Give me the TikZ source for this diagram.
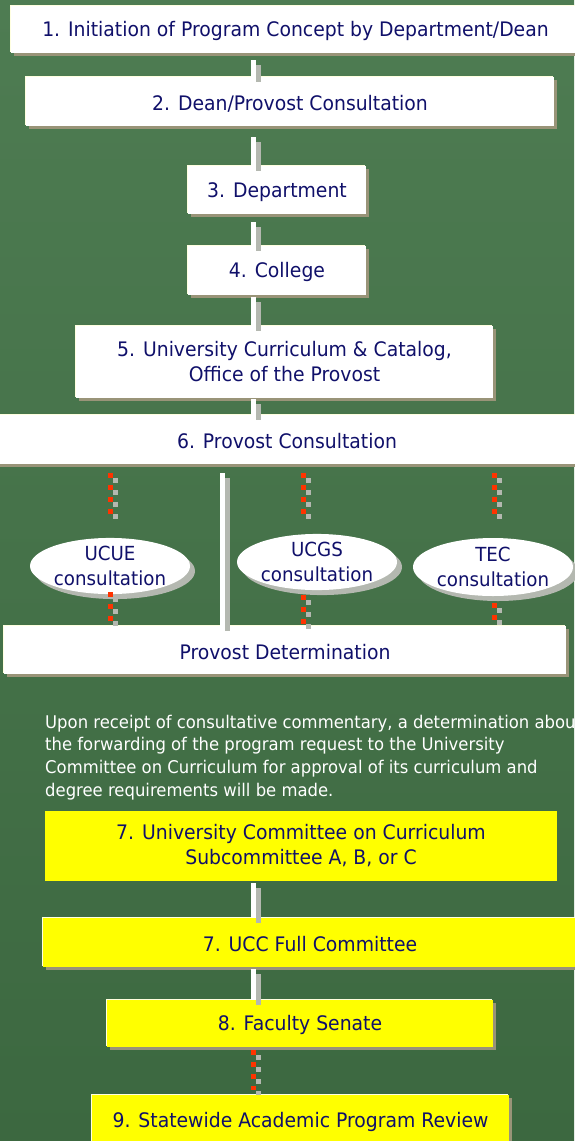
\documentclass[tikz,border=0pt]{standalone}
\usepackage{fontspec}
\setmainfont{DejaVu Sans}[FakeStretch=0.94]
\usetikzlibrary{shapes.geometric,shadows}
\definecolor{bgtop}{RGB}{78,124,82}
\definecolor{bgbot}{RGB}{60,104,64}
\definecolor{navy}{RGB}{16,16,106}
\definecolor{shadowc}{RGB}{153,148,120}
\definecolor{cream}{RGB}{255,255,224}
\definecolor{conngrey}{RGB}{180,184,176}
\definecolor{dashred}{RGB}{255,51,0}
\definecolor{boxyellow}{RGB}{255,255,0}
\tikzset{
 box/.style={rectangle, fill=white, inner sep=0pt, align=center, text=navy,
   font=\fontsize{20}{25}\selectfont,
   execute at begin node={\rule{0pt}{19pt}},
   drop shadow={shadow xshift=3pt, shadow yshift=-3pt, fill=shadowc, opacity=1},
   general shadow={shadow xshift=-1.5pt, shadow yshift=1.5pt, fill=cream}},
 ybox/.style={box, fill=boxyellow},
 yplain/.style={rectangle, fill=boxyellow, inner sep=0pt, align=center, text=navy,
   font=\fontsize{20}{25}\selectfont, execute at begin node={\rule{0pt}{19pt}}},
 oval/.style={ellipse, fill=white, inner sep=0pt, align=center, text=navy,
   font=\fontsize{19.4}{25}\selectfont, minimum width=160pt,
   drop shadow={shadow xshift=5pt, shadow yshift=-5pt, fill=conngrey, opacity=1}},
 para/.style={inner sep=0pt, align=left, text=white, font=\fontsize{17.5}{22.7}\selectfont},
 conn/.style={draw=white, line width=5pt},
 connsh/.style={draw=conngrey, line width=5pt, transform canvas={xshift=5pt,yshift=-5pt}},
 dconn/.style={draw=dashred, line width=5pt, dash pattern=on 5pt off 7pt},
 dconnsh/.style={draw=conngrey, line width=5pt, dash pattern=on 5pt off 7pt,
   transform canvas={xshift=5pt,yshift=-5pt}},
}
\begin{document}
\begin{tikzpicture}[x=1pt,y=-1pt]
\useasboundingbox (0,0) rectangle (574,1141);
\fill[top color=bgtop, bottom color=bgbot] (0,0) rectangle (574,1141);

% boxes
\node[box, minimum width=569pt, minimum height=47pt] (b1) at (295.5,29.5) {1. Initiation of Program Concept by Department/Dean};
\node[box, minimum width=528pt, minimum height=49pt] (b2) at (290,101.5) {2. Dean/Provost Consultation};
\node[box, minimum width=178pt, minimum height=48pt] (b3) at (277,190) {3. Department};
\node[box, minimum width=178pt, minimum height=49pt] (b4) at (277,270.5) {4. College};
\node[box, minimum width=417pt, minimum height=72pt] (b5) at (284.5,362) {5. University Curriculum \& Catalog,\\Office of the Provost};
\node[box, minimum width=585pt, minimum height=49pt] (b6) at (287,439.5) {6. Provost Consultation};

\node[oval, minimum height=56pt] (e1) at (110,566) {UCUE\\consultation};
\node[oval, minimum height=56pt] (e2) at (317,562) {UCGS\\consultation};
\node[oval, minimum height=58pt] (e3) at (493,567) {TEC\\consultation};

\node[box, minimum width=562pt, minimum height=48pt] (pd) at (285,650) {Provost Determination};

\node[para, anchor=north west] (note) at (45,714.5) {Upon receipt of consultative commentary, a determination about\\the forwarding of the program request to the University\\Committee on Curriculum for approval of its curriculum and\\degree requirements will be made.};

\node[yplain, minimum width=512pt, minimum height=70pt] (b7a) at (301,846) {7. University Committee on Curriculum\\Subcommittee A, B, or C};
\node[ybox, minimum width=534pt, minimum height=49pt] (b7b) at (310,942.5) {7. UCC Full Committee};
\node[ybox, minimum width=386pt, minimum height=47pt] (b8) at (300,1023.5) {8. Faculty Senate};
\node[ybox, minimum width=417pt, minimum height=50pt] (b9) at (300.5,1120) {9. Statewide Academic Program Review};

% connector axes
\coordinate (spine) at (253,0);
\coordinate (sep) at (222,0);
\coordinate (d1) at (110,0);
\coordinate (d2) at (303,0);
\coordinate (d3) at (494.5,0);

% solid connectors (shadow then white)
\foreach \a/\b/\g in {b1/b2/7, b2/b3/11, b3/b4/8, b4/b5/2, b5/b6/1, b7a/b7b/2, b7b/b8/2}{
  \draw[connsh] ([yshift=-\g pt]spine |- \a.south) -- (spine |- \b.north);
  \draw[conn] ([yshift=-\g pt]spine |- \a.south) -- (spine |- \b.north);
}
\draw[connsh] ([yshift=-9pt]sep |- b6.south) -- (sep |- pd.north);
\draw[conn] ([yshift=-9pt]sep |- b6.south) -- (sep |- pd.north);

% dashed connectors
\foreach \d/\e/\t in {d1/e1/17, d2/e2/13, d3/e3/17}{
  \draw[dconnsh] ([yshift=-9pt]\d |- b6.south) -- ([yshift=\t pt]\d |- \e.north);
  \draw[dconn] ([yshift=-9pt]\d |- b6.south) -- ([yshift=\t pt]\d |- \e.north);
}
\foreach \d/\e/\s in {d1/e1/2, d2/e2/-5, d3/e3/-7}{
  \draw[dconnsh] ([yshift=\s pt]\d |- \e.south) -- (\d |- pd.north);
  \draw[dconn] ([yshift=\s pt]\d |- \e.south) -- (\d |- pd.north);
}
\draw[dconnsh] ([yshift=-3pt]spine |- b8.south) -- ([yshift=5pt]spine |- b9.north);
\draw[dconn] ([yshift=-3pt]spine |- b8.south) -- ([yshift=5pt]spine |- b9.north);
\end{tikzpicture}
\end{document}
